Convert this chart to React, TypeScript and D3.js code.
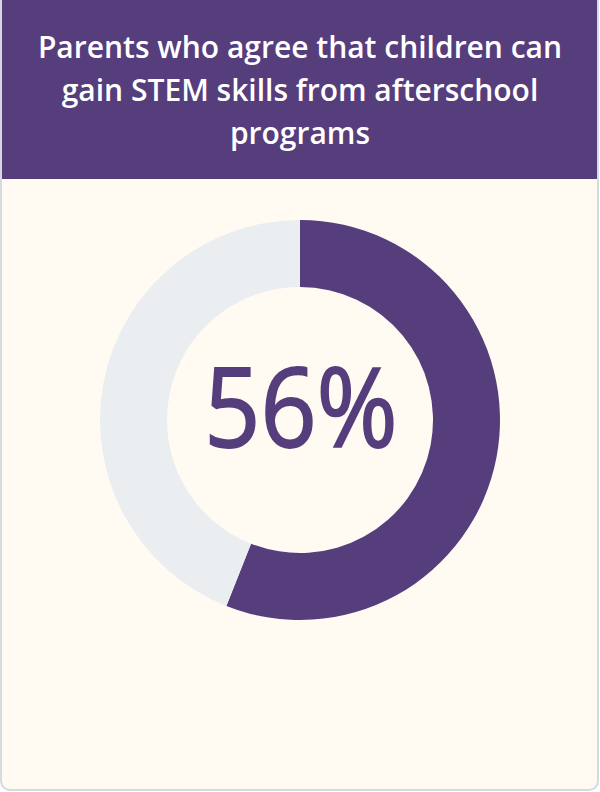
import React, { useEffect, useRef } from "react";
import { select, arc, pie, scaleOrdinal } from "d3";

// chart data
const titleLines = [
  "Parents who agree that children can",
  "gain STEM skills from afterschool",
  "programs",
];
const categories = ["agree", "other"];
const values = [56, 44];
const colors = ["#563d7c", "#eaeef0"];

const W = 600;
const H = 792;

function DonutCard() {
  const svgRef = useRef<SVGSVGElement>(null);

  useEffect(() => {
    const svg = select(svgRef.current);
    svg.selectAll("*").remove();

    // card background + border
    svg
      .append("rect")
      .attr("x", 1)
      .attr("y", -10)
      .attr("width", W - 3)
      .attr("height", H - 1 + 9)
      .attr("rx", 9)
      .attr("fill", "#fffbf3")
      .attr("stroke", "#d5d9e0")
      .attr("stroke-width", 2);

    // header band
    svg
      .append("rect")
      .attr("x", 2)
      .attr("y", 0)
      .attr("width", W - 5)
      .attr("height", 179)
      .attr("fill", "#563d7c");

    svg
      .append("g")
      .selectAll("text")
      .data(titleLines)
      .join("text")
      .attr("x", W / 2)
      .attr("y", (d, i) => 58 + i * 43)
      .attr("text-anchor", "middle")
      .attr("fill", "#ffffff")
      .attr("font-family", "'Open Sans', 'DejaVu Sans', sans-serif")
      .attr("font-size", 30)
      .attr("font-weight", 600)
      .text(d => d);

    // donut
    const color = scaleOrdinal<string, string>().domain(categories).range(colors);
    const slices = pie<number>().sort(null)(values);
    const arcGen = arc<any>().innerRadius(133).outerRadius(200);

    const g = svg.append("g").attr("transform", "translate(300, 420)");
    g.selectAll("path")
      .data(slices)
      .join("path")
      .attr("d", arcGen)
      .attr("fill", (d, i) => color(categories[i]));

    // big percentage in the hole (regular weight, slightly thickened)
    g.append("text")
      .attr("transform", "translate(1, 27) scale(0.9, 1)")
      .attr("text-anchor", "middle")
      .attr("fill", "#563d7c")
      .attr("stroke", "#563d7c")
      .attr("stroke-width", 1.8)
      .attr("font-family", "'Open Sans', 'DejaVu Sans', sans-serif")
      .attr("font-size", 109)
      .text(`${values[0]}%`);
  }, []);

  return (
    <div style={{ position: "absolute", left: 0, top: 0 }}>
      <svg ref={svgRef} width={W} height={H} style={{ display: "block" }} />
    </div>
  );
}

export default function App() {
  return <DonutCard />;
}
